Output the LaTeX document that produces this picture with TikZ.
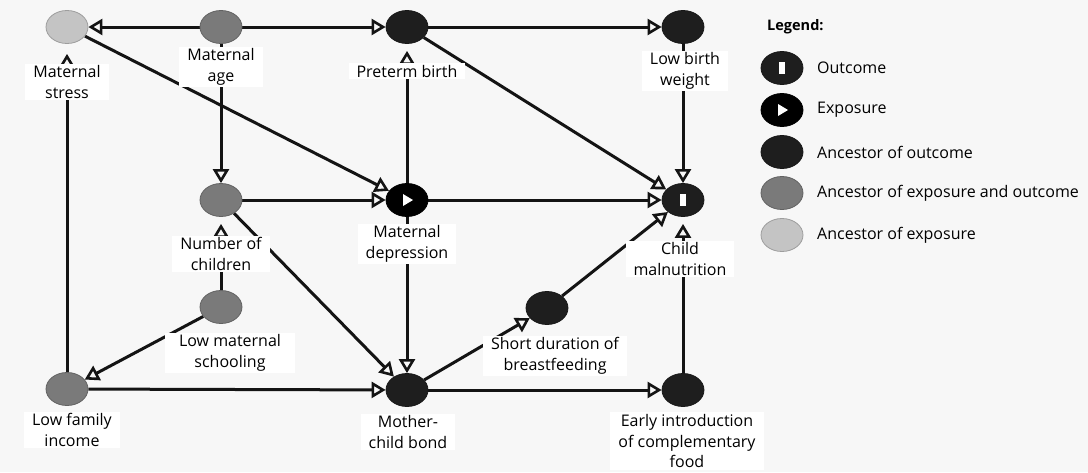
\documentclass[tikz,border=0pt]{standalone}
\usepackage{fontspec}
\setmainfont{Open Sans}
\usetikzlibrary{shapes.geometric,arrows.meta}
\pgfdeclarelayer{back}
\pgfdeclarelayer{bg}
\pgfsetlayers{back,bg,main}
\definecolor{bgc}{HTML}{F7F7F7}
\definecolor{lgray}{HTML}{C4C4C4}
\definecolor{mgray}{HTML}{7A7A7A}
\definecolor{dgray}{HTML}{1E1E1E}
\definecolor{edgec}{HTML}{141414}
\begin{document}
\begin{tikzpicture}[x=1pt,y=-1pt,
  var/.style={ellipse, minimum width=42pt, minimum height=33pt, inner sep=0pt, draw=#1!80!black, line width=0.8pt, fill=#1},
  lab/.style={fill=white, align=center, inner xsep=8pt, inner ysep=2pt, font=\fontsize{16}{20.5}\selectfont, text=black},
  legtext/.style={anchor=west, inner sep=0pt, font=\fontsize{16}{20.5}\selectfont},
  arr/.style={draw=edgec, line width=3pt, -{Triangle[open, length=14pt, width=16pt, line width=2.6pt]}}
]
\begin{pgfonlayer}{back}
\fill[bgc] (0,0) rectangle (1088,472);
\end{pgfonlayer}
\useasboundingbox (0,0) rectangle (1088,472);

% variable nodes
\node[var=lgray] (MS)   at (67,27)  {};
\node[var=mgray] (MA)   at (221,27) {};
\node[var=dgray] (PB)   at (407,27) {};
\node[var=dgray] (LBW)  at (683,27) {};
\node[var=mgray] (NC)   at (221,200) {};
\node[var=black] (MD)   at (407,200) {};
\node[var=dgray] (CM)   at (683,200) {};
\node[var=mgray] (LMS)  at (221,307) {};
\node[var=dgray] (SDB)  at (547,308) {};
\node[var=mgray] (LFI)  at (67,389) {};
\node[var=dgray] (MCB)  at (407,390) {};
\node[var=dgray] (EICF) at (683,390) {};

\fill[white, shift={(MD)}] (-4,-6) -- (6,0) -- (-4,6) -- cycle;
\fill[white, shift={(CM)}] (-3,-6) rectangle (3,6);

% labels
\node[lab] (MSl)   at (67,82)   {Maternal\\stress};
\node[lab] (MAl)   at (221,67)  {Maternal\\age};
\node[lab] (PBl)   at (407,71)  {Preterm birth};
\node[lab] (LBWl)  at (685,71)  {Low birth\\weight};
\node[lab] (NCl)   at (221,254) {Number of\\children};
\node[lab] (MDl)   at (407,244) {Maternal\\depression};
\node[lab] (CMl)   at (680,259) {Child\\malnutrition};
\node[lab, inner xsep=14pt] (LMSl)  at (230,353) {Low maternal\\schooling};
\node[lab] (SDBl)  at (555,356) {Short duration of\\breastfeeding};
\node[lab] (LFIl)  at (72,430)  {Low family\\income};
\node[lab] (MCBl)  at (408,432) {Mother-\\child bond};
\node[lab] (EICFl) at (687,441) {Early introduction\\of complementary\\food};

% edges
\begin{pgfonlayer}{bg}
\draw[arr] (MA) -- (MS);
\draw[arr] (MA) -- (PB);
\draw[arr] (PB) -- (LBW);
\draw[arr] (MS) -- (MD);
\draw[arr] (MA) -- (NC);
\draw[arr] (NC) -- (MD);
\draw[arr, shorten >=7pt] (MD) -- (PB);
\draw[arr] (PB) -- (CM);
\draw[arr] (LBW) -- (CM);
\draw[arr] (MD) -- (CM);
\draw[arr] (SDB) -- (CM);
\draw[arr, shorten >=7pt] (EICF) -- (CM);
\draw[arr, shorten >=10pt] (LFI) -- (MS);
\draw[arr, shorten >=7pt] (LMS) -- (NC);
\draw[arr] (LMS) -- (LFI);
\draw[arr] (NC) -- (MCB);
\draw[arr] (MD) -- (MCB);
\draw[arr] (LFI) -- (MCB);
\draw[arr] (MCB) -- (SDB);
\draw[arr] (MCB) -- (EICF);
\end{pgfonlayer}

% legend
\node[anchor=west, inner sep=0pt, font=\bfseries\fontsize{14.5}{16}\selectfont] (LT) at (767,27) {Legend:};
\node[var=dgray] (L1) at (782,68)  {};
\node[var=black] (L2) at (782,110) {};
\node[var=dgray] (L3) at (782,152) {};
\node[var=mgray] (L4) at (782,193) {};
\node[var=lgray] (L5) at (782,235) {};
\fill[white, shift={(L1)}] (-3,-6) rectangle (3,6);
\fill[white, shift={(L2)}] (-4,-6) -- (6,0) -- (-4,6) -- cycle;
\node[legtext] (T1) at (817,68)  {Outcome};
\node[legtext] (T2) at (817,110) {Exposure};
\node[legtext] (T3) at (817,152) {Ancestor of outcome};
\node[legtext] (T4) at (817,193) {Ancestor of exposure and outcome};
\node[legtext] (T5) at (817,235) {Ancestor of exposure};
\end{tikzpicture}
\end{document}
